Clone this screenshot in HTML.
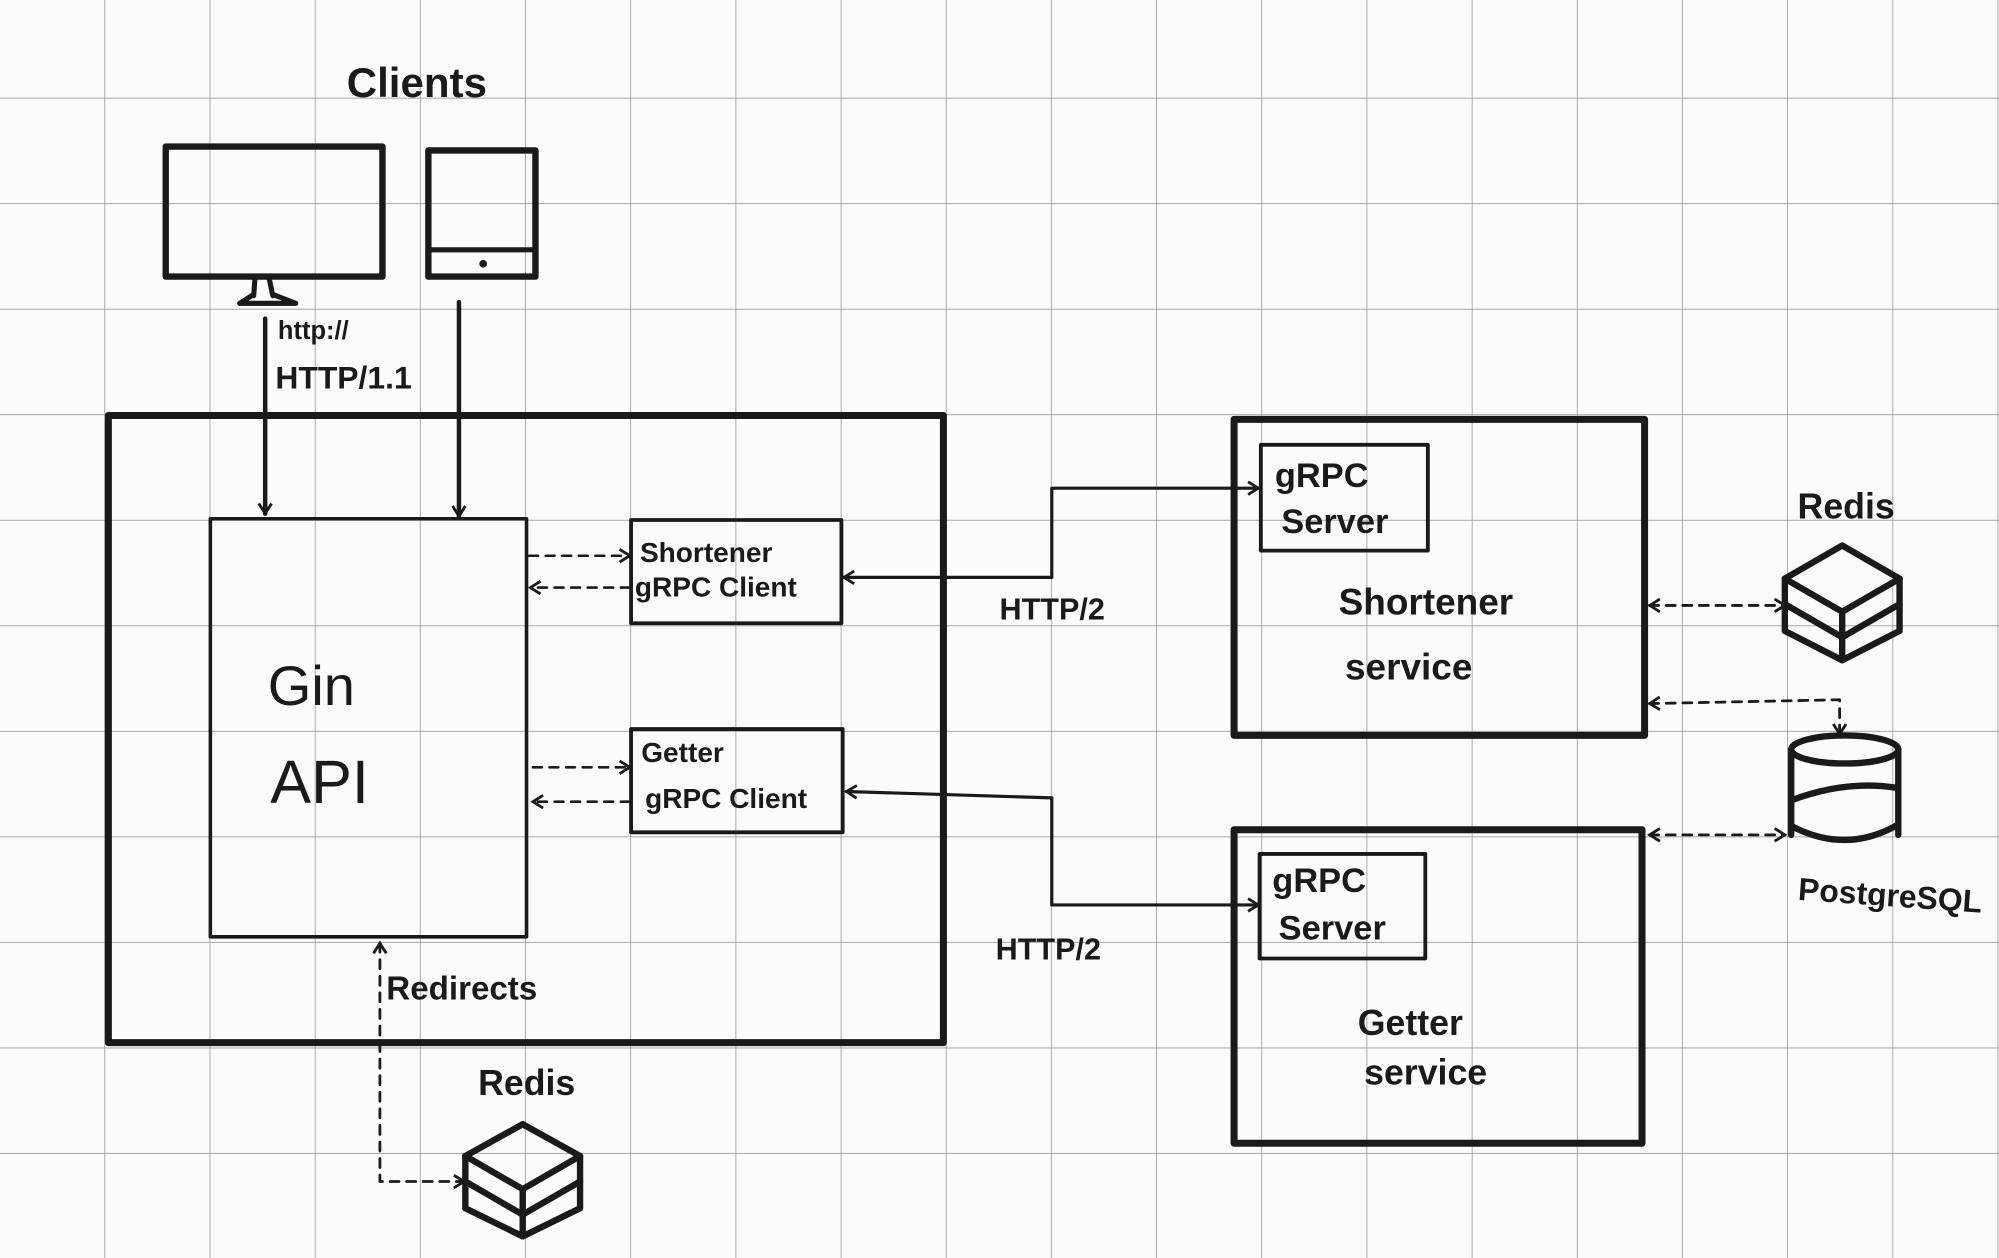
<!DOCTYPE html>
<html><head><meta charset="utf-8"><style>
html,body{margin:0;padding:0;background:#fbfbfb;}
svg{display:block;}
text{font-family:"Liberation Sans",sans-serif;fill:#1a1a1a;font-weight:bold;}
text.n{font-weight:normal;}
</style></head><body>
<svg width="1999" height="1258" viewBox="0 0 1568 987" preserveAspectRatio="none" xmlns="http://www.w3.org/2000/svg">
<defs>
<pattern id="g" x="0" y="-5.5" width="82.5" height="82.8" patternUnits="userSpaceOnUse">
<path d="M82.5 0V82.8M0 82.8H82.5" stroke="#8c8c8c" stroke-width="1.1" fill="none"/>
</pattern>
<marker id="a" markerWidth="12" markerHeight="12" refX="9" refY="6" orient="auto" markerUnits="userSpaceOnUse">
<path d="M1 1L9 6L1 11" fill="none" stroke="#1a1a1a" stroke-width="2.2"/>
</marker>
<marker id="as" markerWidth="12" markerHeight="12" refX="9" refY="6" orient="auto-start-reverse" markerUnits="userSpaceOnUse">
<path d="M1 1L9 6L1 11" fill="none" stroke="#1a1a1a" stroke-width="2.2"/>
</marker>
</defs>
<rect width="1568" height="987" fill="#fbfbfb"/>
<rect width="1568" height="987" fill="url(#g)"/>
<g fill="none" stroke="#1a1a1a" stroke-linecap="round" stroke-linejoin="round">
<rect x="130" y="115" width="170" height="102" stroke-width="5"/>
<path d="M200 218L199 232M211 218L214 232M188 238H232M188 238L199 231M232 238L214 231" stroke-width="4"/>
<rect x="336" y="118" width="84" height="99" stroke-width="5"/>
<path d="M336 196H420" stroke-width="4"/>
<circle cx="379" cy="207" r="3" fill="#1a1a1a" stroke="none"/>
<path d="M208 250V403" stroke-width="3.5" marker-end="url(#a)"/>
<path d="M360 237V405" stroke-width="3.5" marker-end="url(#a)"/>
<rect x="85" y="326" width="655" height="492" stroke-width="5.5"/>
<rect x="165" y="407" width="248" height="328" stroke-width="2.8"/>
<rect x="495" y="408" width="165" height="81" stroke-width="3"/>
<rect x="495" y="572" width="166" height="81" stroke-width="3"/>
<g stroke-width="2" stroke-dasharray="7 6">
<path d="M415 436H494" marker-end="url(#a)"/>
<path d="M494 461H416" marker-end="url(#a)"/>
<path d="M418 602H494" marker-end="url(#a)"/>
<path d="M494 629H418" marker-end="url(#a)"/>
</g>
<path d="M825 453H662" stroke-width="2.5" marker-end="url(#a)"/>
<path d="M825 453V383H987" stroke-width="2.5" marker-end="url(#a)"/>
<path d="M825 626L664 621" stroke-width="2.5" marker-end="url(#a)"/>
<path d="M825 626V710H987" stroke-width="2.5" marker-end="url(#a)"/>
<rect x="968" y="329" width="322" height="248" stroke-width="5.5"/>
<rect x="989" y="349" width="131" height="83" stroke-width="3"/>
<rect x="968" y="651" width="320" height="246" stroke-width="5.5"/>
<rect x="988" y="670" width="130" height="82" stroke-width="3"/>
<g stroke-width="2.2" stroke-dasharray="7 6">
<path d="M1294 475H1400" marker-start="url(#as)" marker-end="url(#a)"/>
<path d="M1294 552L1443 549V576" marker-start="url(#as)" marker-end="url(#a)"/>
<path d="M1294 655H1400" marker-start="url(#as)" marker-end="url(#a)"/>
<path d="M298 740V927H364" marker-start="url(#as)" marker-end="url(#a)"/>
</g>
<g stroke-width="5">
<path d="M1445 428L1490 454V495L1445 518L1400 495V454Z"/>
<path d="M1400 454L1445 480L1490 454M1445 480V518M1400 474L1445 500L1490 474"/>
<path d="M410 882L455 907V948L410 970L365 948V907Z"/>
<path d="M365 907L410 933L455 907M410 933V970M365 927L410 953L455 927"/>
</g>
<g stroke-width="5">
<ellipse cx="1447" cy="588" rx="42" ry="11"/>
<path d="M1405 588V655M1489 588V655M1405 628Q1447 612 1487 618M1405 648Q1447 670 1487 648"/>
</g>
</g>
<text x="272" y="76" font-size="33">Clients</text>
<text x="218" y="266" font-size="20">http://</text>
<text x="216" y="305" font-size="25">HTTP/1.1</text>
<text class="n" x="210" y="553" font-size="44">Gin</text>
<text class="n" x="212" y="630" font-size="48">API</text>
<text x="502" y="441" font-size="22">Shortener</text>
<text x="498" y="468" font-size="22">gRPC Client</text>
<text x="503" y="598" font-size="22">Getter</text>
<text x="506" y="634" font-size="22">gRPC Client</text>
<text x="784" y="486" font-size="24">HTTP/2</text>
<text x="781" y="753" font-size="24">HTTP/2</text>
<text x="1000" y="382" font-size="27">gRPC</text>
<text x="1005" y="418" font-size="27">Server</text>
<text x="1050" y="482" font-size="29">Shortener</text>
<text x="1055" y="533" font-size="29">service</text>
<text x="998" y="700" font-size="27">gRPC</text>
<text x="1003" y="737" font-size="27">Server</text>
<text x="1065" y="812" font-size="28">Getter</text>
<text x="1070" y="851" font-size="28">service</text>
<text x="1410" y="407" font-size="28">Redis</text>
<text x="1410" y="706" font-size="25" transform="rotate(4 1410 706)">PostgreSQL</text>
<text x="303" y="784" font-size="26">Redirects</text>
<text x="375" y="859" font-size="28">Redis</text>
</svg>
</body></html>
